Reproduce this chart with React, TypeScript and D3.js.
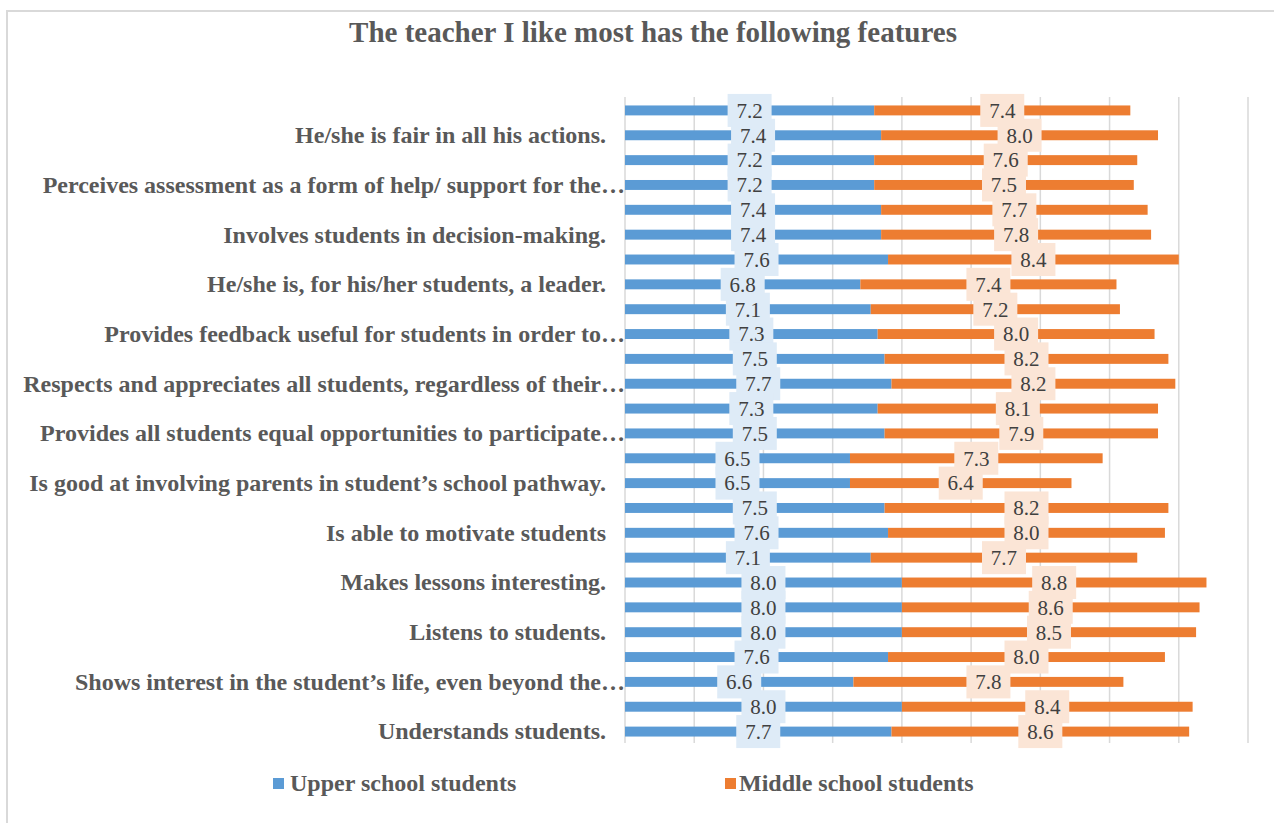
import React from "react";
import * as d3 from "d3";

const categories = [
  "", "He/she is fair in all his actions.",
  "", "Perceives assessment as a form of help/ support for the…",
  "", "Involves students in decision-making.",
  "", "He/she is, for his/her students, a leader.",
  "", "Provides feedback useful for students in order to…",
  "", "Respects and appreciates all students, regardless of their…",
  "", "Provides all students equal opportunities to participate…",
  "", "Is good at involving parents in student’s school pathway.",
  "", "Is able to motivate  students",
  "", "Makes lessons interesting.",
  "", "Listens to students.",
  "", "Shows interest in the student’s life, even beyond the…",
  "", "Understands students.",
];

const upperSchool = [
  7.2, 7.4, 7.2, 7.2, 7.4, 7.4, 7.6, 6.8, 7.1, 7.3, 7.5, 7.7, 7.3,
  7.5, 6.5, 6.5, 7.5, 7.6, 7.1, 8.0, 8.0, 8.0, 7.6, 6.6, 8.0, 7.7,
];

const middleSchool = [
  7.4, 8.0, 7.6, 7.5, 7.7, 7.8, 8.4, 7.4, 7.2, 8.0, 8.2, 8.2, 8.1,
  7.9, 7.3, 6.4, 8.2, 8.0, 7.7, 8.8, 8.6, 8.5, 8.0, 7.8, 8.4, 8.6,
];

const seriesNames = ["Upper school students", "Middle school students"];
const xTicks = [0, 2, 4, 6, 8, 10, 12, 14, 16, 18];
const title = "The teacher I like most has the following features";

const W = 1274;
const H = 823;
const BLUE = "#5B9BD5";
const ORANGE = "#ED7D31";
const BLUE_BG = "#DEEBF7";
const ORANGE_BG = "#FBE5D6";
const SERIF = "'Liberation Serif', 'Times New Roman', serif";

export default function App() {
  const x = d3.scaleLinear().domain([0, 18]).range([625, 1248]);
  const idx = categories.map((_, i) => i);
  const y = d3
    .scaleBand<number>()
    .domain(idx)
    .range([98, 744])
    .paddingInner(0.6)
    .paddingOuter(0.3);
  const bh = y.bandwidth();

  const rows = idx.map((i) => {
    const u = upperSchool[i];
    const m = middleSchool[i];
    return { i, u, m, y0: y(i)!, cy: y(i)! + bh / 2 };
  });

  const boxW = 44;
  const boxH = 33;

  return (
    <div style={{ position: "absolute", left: 0, top: 0 }}>
      <svg width={W} height={H} style={{ display: "block", background: "#fff" }}>
        <rect x={7} y={11} width={W + 10} height={H + 10} fill="#fff" stroke="#d9d9d9" strokeWidth={2} />
        <text
          x={653}
          y={42}
          textAnchor="middle"
          fontFamily={SERIF}
          fontWeight="bold"
          fontSize={29}
          fill="#595959"
        >
          {title}
        </text>

        {xTicks.map((t) => (
          <line key={t} x1={x(t)} x2={x(t)} y1={97} y2={743} stroke="#d9d9d9" strokeWidth={1.5} />
        ))}

        {rows.map((r) => (
          <g key={"b" + r.i}>
            <rect x={x(0)} y={r.y0} width={x(r.u) - x(0)} height={bh} fill={BLUE} />
            <rect x={x(r.u)} y={r.y0} width={x(r.u + r.m) - x(r.u)} height={bh} fill={ORANGE} />
          </g>
        ))}

        {categories.map((c, i) =>
          c ? (
            <text
              key={"c" + i}
              x={c.endsWith("…") ? 625 : 606}
              y={y(i)! + bh / 2}
              dy="0.33em"
              textAnchor="end"
              fontFamily={SERIF}
              fontWeight="bold"
              fontSize={24}
              fill="#595959"
            >
              {c}
            </text>
          ) : null
        )}

        {rows.map((r) => {
          const cx = (x(0) + x(r.u)) / 2;
          return (
            <g key={"lu" + r.i}>
              <rect x={cx - boxW / 2} y={r.cy - boxH / 2} width={boxW} height={boxH} fill={BLUE_BG} />
              <text x={cx} y={r.cy} dy="0.35em" textAnchor="middle" fontFamily={SERIF} fontSize={21} fill="#404040">
                {r.u.toFixed(1)}
              </text>
            </g>
          );
        })}
        {rows.map((r) => {
          const cx = (x(r.u) + x(r.u + r.m)) / 2;
          return (
            <g key={"lm" + r.i}>
              <rect x={cx - boxW / 2} y={r.cy - boxH / 2} width={boxW} height={boxH} fill={ORANGE_BG} />
              <text x={cx} y={r.cy} dy="0.35em" textAnchor="middle" fontFamily={SERIF} fontSize={21} fill="#404040">
                {r.m.toFixed(1)}
              </text>
            </g>
          );
        })}

        {seriesNames.map((s, k) => {
          const lx = k === 0 ? 273 : 725;
          return (
            <g key={s}>
              <rect x={lx} y={778} width={11} height={11} fill={k === 0 ? BLUE : ORANGE} />
              <text
                x={lx + (k === 0 ? 17 : 14)}
                y={791}
                fontFamily={SERIF}
                fontWeight="bold"
                fontSize={24}
                fill="#595959"
              >
                {s}
              </text>
            </g>
          );
        })}
      </svg>
    </div>
  );
}
